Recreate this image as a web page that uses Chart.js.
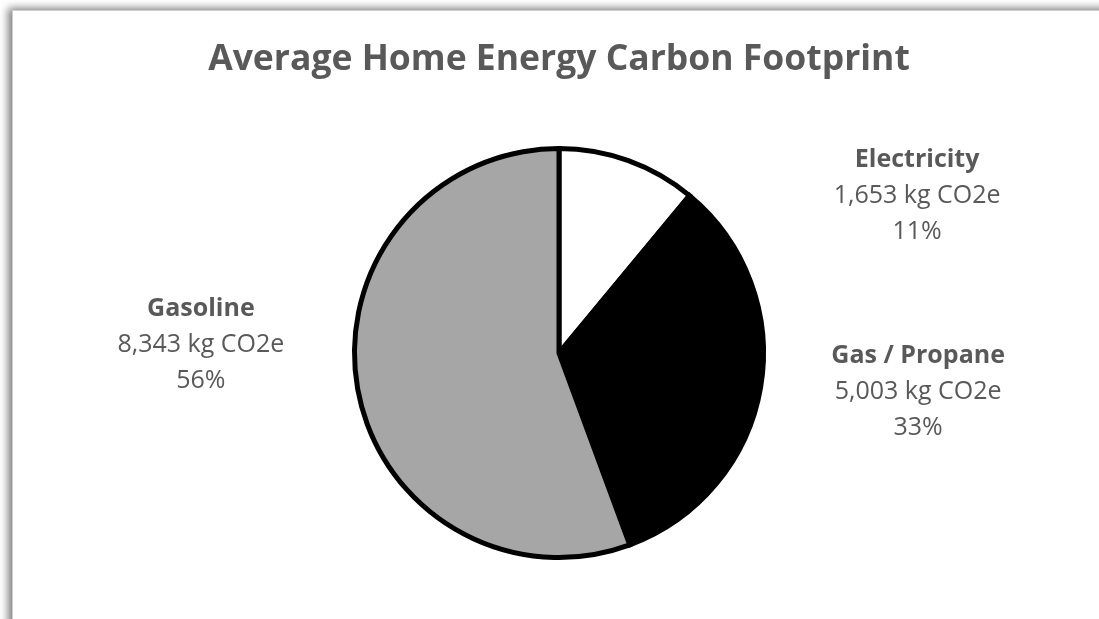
<!DOCTYPE html>
<html>
<head>
<meta charset="utf-8">
<title>Average Home Energy Carbon Footprint</title>
<script src="https://cdn.jsdelivr.net/npm/chart.js@4"></script>
<style>
    html, body { margin: 0; padding: 0; background: #fff; overflow: hidden; }
    #frame {
        position: absolute; left: 12px; top: 10px; width: 1200px; height: 700px;
        border: 1px solid #d0d0d0; background: #fff;
        box-shadow: -4px -2px 8px rgba(0,0,0,0.5);
    }
    #energyChart { position: absolute; left: 0; top: 0; }
</style>
</head>
<body>
<div id="frame"></div>
<canvas id="energyChart" width="1099" height="619"></canvas>
<script>
// Data
const categories = ["Electricity", "Gas / Propane", "Gasoline"];
const emissions = [1653, 5003, 8343];   // kg CO2e per year
const sliceColors = ["#ffffff", "#000000", "#a6a6a6"];

const textColor = "#595959";
const fontFamily = "'Open Sans', 'Noto Sans', sans-serif";

// ----------------------------
// LABELS BESIDE THE PIE
// ----------------------------
// offsets are in pie radii from the centre
const labelOffsets = [[1.73, -0.76], [1.735, 0.19], [-1.73, -0.04]];

const outsideLabels = {
    id: "outsideLabels",
    afterDatasetsDraw(chart){
        const ctx = chart.ctx;
        const arcs = chart.getDatasetMeta(0).data;
        const total = emissions.reduce((a, b) => a + b, 0);
        const lineH = 36;

        ctx.save();
        ctx.fillStyle = textColor;
        ctx.textAlign = "center";
        ctx.textBaseline = "middle";

        arcs.forEach((arc, i) => {
            const r = arc.outerRadius + 2.5;
            const x = arc.x + labelOffsets[i][0] * r;
            const y = arc.y + labelOffsets[i][1] * r;
            const pct = Math.round(emissions[i] / total * 100) + "%";

            ctx.font = "bold 25px " + fontFamily;
            ctx.fillText(categories[i], x, y - lineH);
            ctx.font = "25px " + fontFamily;
            ctx.fillText(emissions[i].toLocaleString("en-US") + " kg CO2e", x, y);
            ctx.fillText(pct, x, y + lineH);
        });
        ctx.restore();
    }
};

// ----------------------------
// CHART
// ----------------------------
const ctx = document.getElementById("energyChart").getContext("2d");

new Chart(ctx, {
    type: "pie",
    data: {
        labels: categories,
        datasets: [{
            data: emissions,
            backgroundColor: sliceColors,
            borderColor: "#000000",
            borderWidth: 5,
            borderJoinStyle: "miter"
        }]
    },
    options: {
        responsive: false,
        animation: false,
        // left padding shifts the pie and title a little right of the canvas centre
        layout: { padding: { left: 19, right: 0, top: 0, bottom: 59 } },
        plugins: {
            legend: { display: false },
            tooltip: { enabled: false },
            title: {
                display: true,
                text: "Average Home Energy Carbon Footprint",
                color: textColor,
                font: { family: fontFamily, size: 35.5, weight: "bold", lineHeight: 1.2 },
                padding: { top: 39, bottom: 64.4 }
            }
        }
    },
    plugins: [outsideLabels]
});
</script>
</body>
</html>
